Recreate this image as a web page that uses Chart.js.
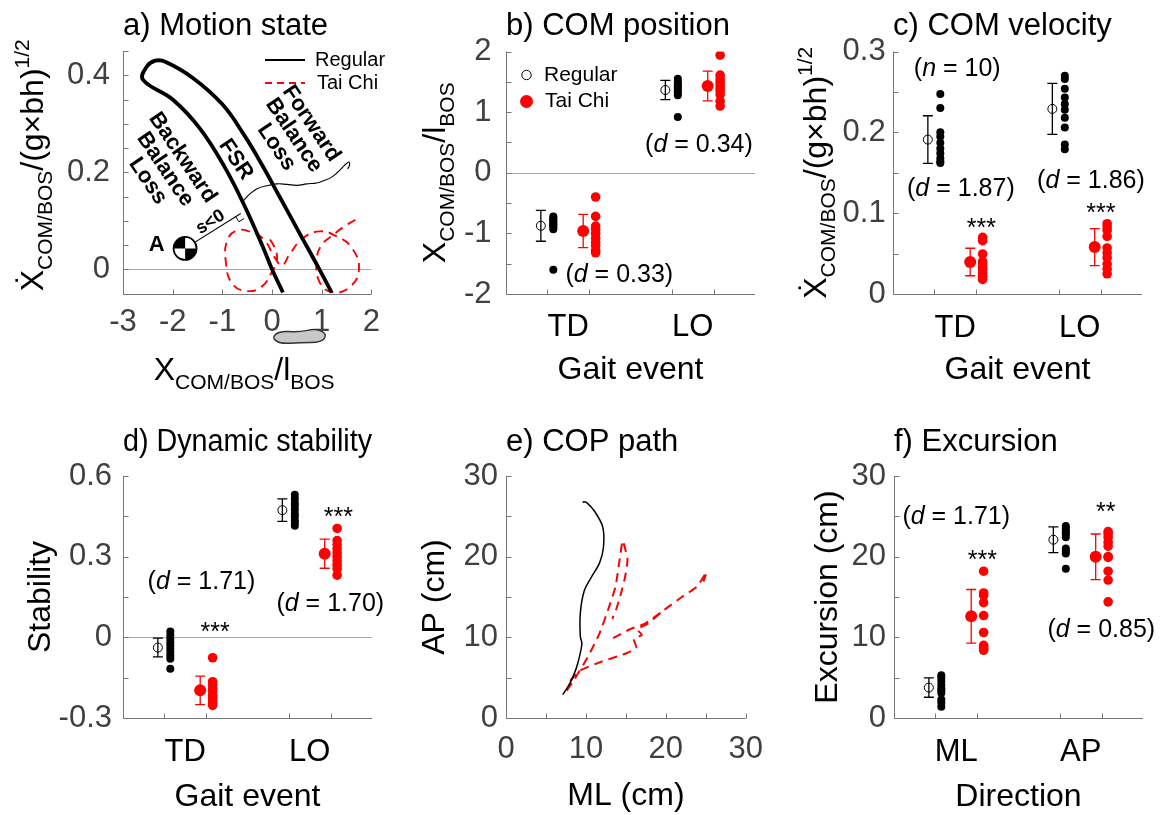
<!DOCTYPE html>
<html><head><meta charset="utf-8">
<script src="https://cdn.jsdelivr.net/npm/chart.js@4.4.1/dist/chart.umd.min.js"></script>
<style>
html,body{margin:0;padding:0;background:#fff;}
#wrap{position:relative;width:1166px;height:815px;overflow:hidden;background:#fff;}
canvas{position:absolute;}
</style></head><body>
<div id="wrap">
<canvas id="pa" width="390" height="400" style="left:0px;top:0px"></canvas>
<canvas id="pb" width="386" height="400" style="left:390px;top:0px"></canvas>
<canvas id="pc" width="390" height="400" style="left:776px;top:0px"></canvas>
<canvas id="pd" width="390" height="415" style="left:0px;top:400px"></canvas>
<canvas id="pe" width="386" height="415" style="left:390px;top:400px"></canvas>
<canvas id="pf" width="390" height="415" style="left:776px;top:400px"></canvas>
</div>
<script>
// ================= DATA =================
// a) Motion state
const fsrX = [0.22, 0.0, -0.2, -0.55, -0.95, -1.45, -2.0, -2.6, -2.52, -2.35, -2.15, -1.6, -1.0, -0.55, -0.2, 0.15, 0.55, 0.9, 1.2];
const fsrY = [-0.048, 0.0, 0.05, 0.13, 0.21, 0.29, 0.35, 0.391, 0.418, 0.43, 0.428, 0.395, 0.34, 0.275, 0.215, 0.15, 0.075, 0.01, -0.048];
const regTrajX = [-0.58, -0.45, -0.3, -0.11, 0.1, 0.3, 0.5, 0.7, 0.9, 1.05, 1.2, 1.32, 1.42, 1.5, 1.55, 1.56, 1.52];
const regTrajY = [0.141, 0.155, 0.166, 0.172, 0.176, 0.175, 0.173, 0.176, 0.178, 0.183, 0.19, 0.2, 0.21, 0.218, 0.221, 0.214, 0.207];
const taiTrajX = [1.68, 1.45, 1.22, 1.0, 0.9, 0.95, 1.2, 1.55, 1.75, 1.6, 1.3, 0.95, 0.6, 0.35, 0.2, 0.05, -0.15, -0.4, -0.7, -0.9, -0.93, -0.8, -0.5, -0.2, 0.0, 0.1, 0.05, -0.1];
const taiTrajY = [0.102, 0.088, 0.07, 0.05, 0.02, -0.025, -0.047, -0.038, 0.0, 0.045, 0.068, 0.078, 0.062, 0.03, 0.008, 0.025, 0.06, 0.076, 0.08, 0.06, 0.015, -0.03, -0.045, -0.035, -0.005, 0.02, 0.045, 0.07];
const sLineX = [-1.75, -0.63];
const sLineY = [0.043, 0.115];
const footX = [-0.006, 0.16, 0.528, 0.898, 1.11, 0.998, 0.562, 0.16];
const footY = [-0.1405, -0.127, -0.13, -0.122, -0.134, -0.151, -0.151, -0.154];

// b) COM position
const events = ['TD', 'LO'];
const posRegDots = [[-0.72, -0.75, -0.78, -0.80, -0.83, -0.85, -0.88, -0.90, -0.93, -1.60], [1.55, 1.50, 1.47, 1.44, 1.41, 1.38, 1.35, 1.32, 1.28, 0.92]];
const posTaiDots = [[-0.40, -0.72, -0.88, -0.93, -1.00, -1.08, -1.15, -1.20, -1.28, -1.32], [1.94, 1.61, 1.55, 1.50, 1.45, 1.40, 1.35, 1.29, 1.18, 1.10]];
const posRegMean = [-0.875, 1.365], posRegSD = [0.255, 0.16];
const posTaiMean = [-0.96, 1.43], posTaiSD = [0.275, 0.245];

// c) COM velocity
const velRegDots = [[0.2475, 0.230, 0.200, 0.195, 0.187, 0.180, 0.174, 0.168, 0.164, 0.162], [0.270, 0.266, 0.254, 0.243, 0.235, 0.228, 0.218, 0.206, 0.185, 0.179]];
const velTaiDots = [[0.070, 0.066, 0.0495, 0.040, 0.037, 0.033, 0.030, 0.026, 0.022, 0.018], [0.087, 0.083, 0.079, 0.0714, 0.057, 0.051, 0.045, 0.037, 0.031, 0.025]];
const velRegMean = [0.191, 0.229], velRegSD = [0.0295, 0.0315];
const velTaiMean = [0.0396, 0.058], velTaiSD = [0.017, 0.023];

// d) Dynamic stability
const stabRegDots = [[0.022, 0.008, -0.005, -0.018, -0.03, -0.042, -0.055, -0.068, -0.08, -0.117], [0.53, 0.515, 0.50, 0.49, 0.475, 0.46, 0.45, 0.435, 0.425, 0.415]];
const stabTaiDots = [[-0.076, -0.165, -0.175, -0.19, -0.20, -0.215, -0.225, -0.235, -0.245, -0.253], [0.405, 0.36, 0.345, 0.33, 0.315, 0.30, 0.285, 0.27, 0.255, 0.231]];
const stabRegMean = [-0.038, 0.473], stabRegSD = [0.035, 0.042];
const stabTaiMean = [-0.197, 0.311], stabTaiSD = [0.053, 0.054];

// e) COP path
const copRegX = [7.1, 7.7, 8.2, 8.9, 9.5, 9.3, 9.3, 9.8, 10.7, 11.7, 12.2, 12.1, 11.1, 10.1, 9.7, 9.6];
const copRegY = [2.9, 3.8, 4.7, 6.5, 9.2, 10.1, 13.0, 15.8, 17.5, 19.2, 21.2, 23.7, 25.6, 26.7, 26.8, 26.7];
const copTai1X = [7.6, 8.5, 10.2, 11.7, 12.8, 13.7, 14.2, 14.6, 14.9, 15.2, 14.9, 14.4, 13.8, 13.3];
const copTai1Y = [3.4, 4.7, 7.5, 10.5, 13.5, 16.3, 19.5, 22.0, 21.0, 19.6, 17.5, 15.5, 13.5, 12.3];
const copTai2X = [8.0, 9.3, 12.0, 15.0, 16.3, 16.0, 17.0, 16.4, 17.6, 19.8, 22.0, 23.9, 25.1, 24.7];
const copTai2Y = [4.6, 5.9, 7.0, 8.0, 8.7, 9.8, 10.3, 11.0, 11.6, 13.4, 15.0, 16.3, 18.1, 16.9];
const copTai3X = [13.4, 15.5, 17.4, 19.8];
const copTai3Y = [9.9, 11.0, 11.7, 13.4];

// f) Excursion
const directions = ['ML', 'AP'];
const excRegDots = [[5.3, 5.0, 4.6, 4.1, 3.7, 3.4, 3.1, 2.3, 1.9, 1.38], [23.8, 23.5, 23.2, 23.0, 22.8, 22.4, 21.0, 20.7, 20.4, 18.5]];
const excTaiDots = [[18.2, 15.5, 15.2, 14.3, 12.7, 10.6, 9.0, 8.8, 8.6, 8.4], [23.1, 22.8, 22.4, 21.8, 21.3, 20.0, 19.9, 18.2, 17.1, 14.4]];
const excRegMean = [3.77, 22.1], excRegSD = [1.2, 1.6];
const excTaiMean = [12.6, 19.98], excTaiSD = [3.33, 2.83];

// ================= HELPERS =================
const FF = '"Liberation Sans", Arial, Helvetica, sans-serif';
const AX = '#777777';
const TICKC = '#404040';
const TL = 5;
const GROUPS = [1, 2];
const REG_OFF = -0.17, TAI_OFF = 0.17, MEAN_SHIFT = -0.05, DOT_SHIFT = 0.05;

const isMajor = (v, m) => Math.abs(v / m - Math.round(v / m)) < 1e-6;
const fmt = v => String(Math.round(v * 1000) / 1000);
const fnt = p => (p.it ? 'italic ' : '') + (p.b ? 'bold ' : '') + p.size + 'px ' + FF;

function drawRich(ctx, parts, x, y, rot, color) {
  ctx.save(); ctx.translate(x, y); if (rot) ctx.rotate(rot);
  ctx.textAlign = 'left'; ctx.textBaseline = 'alphabetic'; ctx.fillStyle = color || '#000';
  let w = 0;
  const ws = parts.map(p => { ctx.font = fnt(p); const m = ctx.measureText(p.t).width; w += m; return m; });
  let cx = -w / 2;
  parts.forEach((p, i) => { ctx.font = fnt(p); ctx.fillText(p.t, cx, p.dy || 0); cx += ws[i]; });
  ctx.restore();
}
function dParts(val) { return [{t: '(', size: 25}, {t: 'd', size: 25, it: true}, {t: ' = ' + val + ')', size: 25}]; }
function drawNotes(chart, notes) {
  const {ctx, scales: {x, y}} = chart;
  notes.forEach(n => {
    const px = x.getPixelForValue(n.x), py = y.getPixelForValue(n.y);
    const star = n.parts.length === 1 && n.parts[0].t.indexOf('*') === 0;
    drawRich(ctx, n.parts, px, py + (star ? 0.58 : 0.27) * n.parts[0].size, 0, '#000');
  });
}
function drawAxes(chart, ex) {
  const {ctx, chartArea: a, scales: {x, y}} = chart;
  ctx.save();
  ctx.strokeStyle = AX; ctx.lineWidth = 1;
  ctx.beginPath();
  const L = Math.round(a.left) + 0.5, B = Math.round(a.bottom) + 0.5;
  ctx.moveTo(L, a.top); ctx.lineTo(L, B); ctx.lineTo(a.right, B);
  y.ticks.forEach(t => { const py = Math.round(y.getPixelForValue(t.value)) + 0.5; ctx.moveTo(L, py); ctx.lineTo(L + TL, py); });
  const xt = ex.xTicks || x.ticks.map(t => t.value);
  xt.forEach(v => { const px = Math.round(x.getPixelForValue(v)) + 0.5; ctx.moveTo(px, B); ctx.lineTo(px, B - TL); });
  ctx.stroke();
  ctx.restore();
}
function panelPlugin(ex) {
  return {
    id: 'panel_' + ex.name,
    beforeDatasetsDraw(chart) {
      const {ctx, chartArea: a, scales: {x, y}} = chart;
      ctx.save();
      if (ex.zero) {
        const py = Math.round(y.getPixelForValue(0)) + 0.5;
        ctx.strokeStyle = '#a8a8a8'; ctx.lineWidth = 1;
        ctx.beginPath(); ctx.moveTo(a.left, py); ctx.lineTo(a.right, py); ctx.stroke();
      }
      (ex.err || []).forEach(e => {
        e.mean.forEach((m, g) => {
          const px = x.getPixelForValue(e.xs[g]);
          const p1 = y.getPixelForValue(m + e.sd[g]), p2 = y.getPixelForValue(m - e.sd[g]);
          ctx.strokeStyle = e.color; ctx.lineWidth = 1.3;
          ctx.beginPath();
          ctx.moveTo(px, p1); ctx.lineTo(px, p2);
          ctx.moveTo(px - 5, p1); ctx.lineTo(px + 5, p1);
          ctx.moveTo(px - 5, p2); ctx.lineTo(px + 5, p2);
          ctx.stroke();
        });
      });
      ctx.restore();
    },
    afterDatasetsDraw(chart) {
      drawAxes(chart, ex);
      if (ex.extra) ex.extra(chart);
      if (ex.notes) drawNotes(chart, ex.notes);
    }
  };
}
function pts(xs, ys) { return xs.map((x, i) => ({x: x, y: ys[i]})); }
function groupPts(groups, off) {
  const out = [];
  groups.forEach((vals, g) => vals.forEach(v => out.push({x: GROUPS[g] + off, y: v})));
  return out;
}
function meanPts(means, off) { return means.map((m, g) => ({x: GROUPS[g] + off, y: m})); }

function yScale(o) {
  return {
    type: 'linear', position: 'left', min: o.min, max: o.max,
    ticks: {stepSize: o.step, autoSkip: false, maxTicksLimit: 100, padding: o.pad, color: TICKC,
      font: {family: FF, size: 31}, callback: v => isMajor(v, o.major) ? fmt(v) : ''},
    grid: {display: false, drawTicks: false}, border: {display: false},
    title: o.title ? {display: true, text: o.title, color: '#000', font: {family: FF, size: 32, lineHeight: 1}, padding: {top: o.tpad, bottom: 0}} : {display: false},
    afterFit: s => { s.width = o.width; }
  };
}
function xCatScale(o) {
  return {
    type: 'linear', position: 'bottom', min: 0.5, max: 2.5,
    afterBuildTicks: s => { s.ticks = GROUPS.map(v => ({value: v})); },
    ticks: {autoSkip: false, maxRotation: 0, minRotation: 0, padding: o.pad, color: '#000',
      font: {family: FF, size: 31}, callback: (v, i) => o.cats[i]},
    grid: {display: false, drawTicks: false}, border: {display: false},
    title: {display: true, text: o.title, color: '#000', font: {family: FF, size: 32, lineHeight: 1}, padding: {top: 0, bottom: o.tpad}},
    afterFit: s => { s.height = o.height; }
  };
}
function xNumScale(o) {
  return {
    type: 'linear', position: 'bottom', min: o.min, max: o.max,
    ticks: {stepSize: o.step, autoSkip: false, maxRotation: 0, minRotation: 0, maxTicksLimit: 100, padding: o.pad, color: TICKC,
      font: {family: FF, size: 31}, callback: v => isMajor(v, o.major) ? fmt(v) : ''},
    grid: {display: false, drawTicks: false}, border: {display: false},
    title: o.title ? {display: true, text: o.title, color: '#000', font: {family: FF, size: 32, lineHeight: 1}, padding: {top: 0, bottom: o.tpad}} : {display: false},
    afterFit: s => { s.height = o.height; }
  };
}
function baseOpts(o, scales) {
  return {
    responsive: false, animation: false, devicePixelRatio: 1, events: [],
    layout: {padding: {left: 0, right: o.padR, top: 0, bottom: 0}},
    plugins: {
      legend: {display: false}, tooltip: {enabled: false},
      title: {display: true, text: o.title, align: 'start', fullSize: false, color: '#000',
        font: {family: FF, size: 31, weight: 'normal', lineHeight: 1.2}, padding: {top: o.tp, bottom: o.tb}}
    },
    scales: scales
  };
}
function catDatasets(regDots, taiDots, regMean, taiMean) {
  return [
    {data: groupPts(regDots, REG_OFF + DOT_SHIFT), pointRadius: 4, backgroundColor: '#000', borderColor: '#000', borderWidth: 0},
    {data: groupPts(taiDots, TAI_OFF + DOT_SHIFT), pointRadius: 4.8, backgroundColor: '#ff0000', borderColor: '#ff0000', borderWidth: 0},
    {data: meanPts(regMean, REG_OFF + MEAN_SHIFT), pointRadius: 4.5, backgroundColor: 'rgba(0,0,0,0)', borderColor: '#000', borderWidth: 1},
    {data: meanPts(taiMean, TAI_OFF + MEAN_SHIFT), pointRadius: 6, backgroundColor: '#ff0000', borderColor: '#ff0000', borderWidth: 0}
  ];
}
function errSpec(regMean, regSD, taiMean, taiSD) {
  return [
    {xs: GROUPS.map(c => c + REG_OFF + MEAN_SHIFT), mean: regMean, sd: regSD, color: '#000'},
    {xs: GROUPS.map(c => c + TAI_OFF + MEAN_SHIFT), mean: taiMean, sd: taiSD, color: '#ff0000'}
  ];
}
const CAT_TICKS = [GROUPS[0] + REG_OFF, GROUPS[0] + TAI_OFF, GROUPS[1] + REG_OFF, GROUPS[1] + TAI_OFF];

const velLabel = [{t: '\u1E8A', size: 32}, {t: 'COM/BOS', size: 21, dy: 9}, {t: '/(g\u00D7bh)', size: 32}, {t: '1/2', size: 21, dy: -14}];
const posLabel = [{t: 'X', size: 32}, {t: 'COM/BOS', size: 21, dy: 9}, {t: '/l', size: 32}, {t: 'BOS', size: 21, dy: 9}];

// ================= PANEL A =================
new Chart(document.getElementById('pa'), {
  type: 'scatter',
  data: {datasets: [
    {data: pts(fsrX, fsrY), showLine: true, pointRadius: 0, borderColor: '#000', borderWidth: 3.8, tension: 0.4, fill: false},
    {data: pts(regTrajX, regTrajY), showLine: true, pointRadius: 0, borderColor: '#000', borderWidth: 1.1, tension: 0.4, fill: false},
    {data: pts(taiTrajX, taiTrajY), showLine: true, pointRadius: 0, borderColor: '#ff0000', borderWidth: 1.9, borderDash: [9, 6], tension: 0.45, fill: false},
    {data: pts(sLineX, sLineY), showLine: true, pointRadius: 0, borderColor: '#000', borderWidth: 1.1, fill: false}
  ]},
  options: baseOpts({title: 'a) Motion state', padR: 18, tp: 7.4, tb: 6.4}, {
    x: xNumScale({min: -3, max: 2, step: 1, major: 1, pad: 10, height: 106.5}),
    y: yScale({min: -0.05, max: 0.45, step: 0.05, major: 0.2, pad: 13, width: 123})
  }),
  plugins: [panelPlugin({name: 'a', zero: true, extra: chart => {
    const {ctx, chartArea: a, scales: {x, y}} = chart;
    // foot outline
    ctx.save();
    const fp = footX.map((v, i) => [x.getPixelForValue(v), y.getPixelForValue(footY[i])]);
    ctx.beginPath();
    const n = fp.length;
    const mid = (p, q) => [(p[0] + q[0]) / 2, (p[1] + q[1]) / 2];
    let m0 = mid(fp[n - 1], fp[0]);
    ctx.moveTo(m0[0], m0[1]);
    for (let i = 0; i < n; i++) { const m = mid(fp[i], fp[(i + 1) % n]); ctx.quadraticCurveTo(fp[i][0], fp[i][1], m[0], m[1]); }
    ctx.closePath(); ctx.fillStyle = '#c8c8c8'; ctx.fill(); ctx.strokeStyle = '#333'; ctx.lineWidth = 1.5; ctx.stroke();
    // right-angle marker at the end of s line
    const A = [x.getPixelForValue(sLineX[0]), y.getPixelForValue(sLineY[0])];
    const P = [x.getPixelForValue(sLineX[1]), y.getPixelForValue(sLineY[1])];
    const len = Math.hypot(P[0] - A[0], P[1] - A[1]);
    const u = [(P[0] - A[0]) / len, (P[1] - A[1]) / len], nv = [-u[1], u[0]], s = 6;
    ctx.beginPath();
    ctx.moveTo(P[0] - u[0] * s, P[1] - u[1] * s);
    ctx.lineTo(P[0] - u[0] * s + nv[0] * s, P[1] - u[1] * s + nv[1] * s);
    ctx.lineTo(P[0] + nv[0] * s, P[1] + nv[1] * s);
    ctx.strokeStyle = '#000'; ctx.lineWidth = 1; ctx.stroke();
    // COM symbol
    const r = 11.5;
    ctx.beginPath(); ctx.arc(A[0], A[1], r, 0, Math.PI * 2); ctx.fillStyle = '#fff'; ctx.fill();
    ctx.fillStyle = '#000';
    ctx.beginPath(); ctx.moveTo(A[0], A[1]); ctx.arc(A[0], A[1], r, Math.PI, Math.PI * 1.5); ctx.closePath(); ctx.fill();
    ctx.beginPath(); ctx.moveTo(A[0], A[1]); ctx.arc(A[0], A[1], r, 0, Math.PI * 0.5); ctx.closePath(); ctx.fill();
    ctx.beginPath(); ctx.arc(A[0], A[1], r, 0, Math.PI * 2); ctx.lineWidth = 1.8; ctx.strokeStyle = '#000'; ctx.stroke();
    ctx.restore();
    // rotated annotation blocks
    const rot = 56 * Math.PI / 180;
    const block = (lines, vx, vy, size, ang, lh) => {
      const px = x.getPixelForValue(vx), py = y.getPixelForValue(vy);
      ctx.save(); ctx.translate(px, py); ctx.rotate(ang);
      ctx.font = 'bold ' + size + 'px ' + FF; ctx.fillStyle = '#000'; ctx.textAlign = 'center'; ctx.textBaseline = 'middle';
      lines.forEach((t, i) => ctx.fillText(t, 0, (i - (lines.length - 1) / 2) * lh));
      ctx.restore();
    };
    block(['Backward', 'Balance', 'Loss'], -2.15, 0.206, 22, rot, 21);
    block(['FSR'], -0.73, 0.226, 22, rot, 21);
    block(['Forward', 'Balance', 'Loss'], 0.44, 0.276, 22, rot, 21);
    block(['s<0'], -1.24, 0.097, 18, Math.atan2(P[1] - A[1], P[0] - A[0]), 18);
    block(['A'], -2.32, 0.051, 22, 0, 22);
    // legend
    ctx.save();
    const lx = a.left + 142, ly1 = a.top + 9, ly2 = a.top + 32;
    ctx.strokeStyle = '#000'; ctx.lineWidth = 2; ctx.beginPath(); ctx.moveTo(lx, ly1); ctx.lineTo(lx + 40, ly1); ctx.stroke();
    ctx.strokeStyle = '#ff0000'; ctx.setLineDash([7, 5]); ctx.beginPath(); ctx.moveTo(lx, ly2); ctx.lineTo(lx + 40, ly2); ctx.stroke();
    ctx.setLineDash([]);
    ctx.font = '20px ' + FF; ctx.fillStyle = '#000'; ctx.textAlign = 'left'; ctx.textBaseline = 'middle';
    ctx.fillText('Regular', lx + 50, ly1); ctx.fillText('Tai Chi', lx + 52, ly2);
    ctx.restore();
    // axis labels
    drawRich(ctx, velLabel, a.left - 80, (a.top + a.bottom) / 2 - 7, -Math.PI / 2, '#000');
    drawRich(ctx, posLabel, (a.left + a.right) / 2 - 3, a.bottom + 86.5, 0, '#000');
  }})]
});

// ================= PANEL B =================
new Chart(document.getElementById('pb'), {
  type: 'scatter',
  data: {datasets: catDatasets(posRegDots, posTaiDots, posRegMean, posTaiMean)},
  options: baseOpts({title: 'b) COM position', padR: 21, tp: 7.4, tb: 6.9}, {
    x: xCatScale({cats: events, pad: 14.4, height: 106, title: 'Gait event', tpad: 14}),
    y: yScale({min: -2, max: 2, step: 0.5, major: 1, pad: 14.5, width: 116})
  }),
  plugins: [panelPlugin({name: 'b', zero: true, xTicks: CAT_TICKS, err: errSpec(posRegMean, posRegSD, posTaiMean, posTaiSD),
    notes: [{x: 2.05, y: 0.45, parts: dParts('0.34')}, {x: 1.41, y: -1.69, parts: dParts('0.33')}],
    extra: chart => {
      const {ctx, chartArea: a} = chart;
      ctx.save();
      ctx.beginPath(); ctx.arc(a.left + 20.5, a.top + 23.5, 4.7, 0, Math.PI * 2); ctx.strokeStyle = '#000'; ctx.lineWidth = 1; ctx.stroke();
      ctx.beginPath(); ctx.arc(a.left + 20.5, a.top + 50, 6.5, 0, Math.PI * 2); ctx.fillStyle = '#ff0000'; ctx.fill();
      ctx.font = '21px ' + FF; ctx.fillStyle = '#000'; ctx.textAlign = 'left'; ctx.textBaseline = 'middle';
      ctx.fillText('Regular', a.left + 38, a.top + 23.5); ctx.fillText('Tai Chi', a.left + 39, a.top + 50);
      ctx.restore();
      drawRich(ctx, posLabel, a.left - 61, (a.top + a.bottom) / 2, -Math.PI / 2, '#000');
    }})]
});

// ================= PANEL C =================
new Chart(document.getElementById('pc'), {
  type: 'scatter',
  data: {datasets: catDatasets(velRegDots, velTaiDots, velRegMean, velTaiMean)},
  options: baseOpts({title: 'c) COM velocity', padR: 24, tp: 7.4, tb: 6.9}, {
    x: xCatScale({cats: events, pad: 16, height: 106, title: 'Gait event', tpad: 14}),
    y: yScale({min: 0, max: 0.3, step: 0.05, major: 0.1, pad: 7.3, width: 117})
  }),
  plugins: [panelPlugin({name: 'c', xTicks: CAT_TICKS, err: errSpec(velRegMean, velRegSD, velTaiMean, velTaiSD),
    notes: [
      {x: 1.016, y: 0.2776, parts: [{t: '(', size: 25}, {t: 'n', size: 25, it: true}, {t: ' = 10)', size: 25}]},
      {x: 1.045, y: 0.129, parts: dParts('1.87')},
      {x: 2.09, y: 0.139, parts: dParts('1.86')},
      {x: 1.21, y: 0.0898, parts: [{t: '***', size: 25}]},
      {x: 2.17, y: 0.1077, parts: [{t: '***', size: 25}]}
    ],
    extra: chart => {
      const {ctx, chartArea: a} = chart;
      drawRich(ctx, velLabel, a.left - 67, (a.top + a.bottom) / 2, -Math.PI / 2, '#000');
    }})]
});

// ================= PANEL D =================
new Chart(document.getElementById('pd'), {
  type: 'scatter',
  data: {datasets: catDatasets(stabRegDots, stabTaiDots, stabRegMean, stabTaiMean)},
  options: baseOpts({title: 'd) Dynamic stability', padR: 18, tp: 23.4, tb: 15.4}, {
    x: xCatScale({cats: events, pad: 16, height: 97, title: 'Gait event', tpad: 2}),
    y: yScale({min: -0.3, max: 0.6, step: 0.15, major: 0.3, pad: 11, width: 123, title: 'Stability', tpad: 25})
  }),
  plugins: [panelPlugin({name: 'd', zero: true, xTicks: CAT_TICKS, err: errSpec(stabRegMean, stabRegSD, stabTaiMean, stabTaiSD),
    notes: [
      {x: 1.13, y: 0.206, parts: dParts('1.71')},
      {x: 1.24, y: 0.045, parts: [{t: '***', size: 25}]},
      {x: 2.165, y: 0.123, parts: dParts('1.70')},
      {x: 2.23, y: 0.473, parts: [{t: '***', size: 25}]}
    ]})]
});

// ================= PANEL E =================
new Chart(document.getElementById('pe'), {
  type: 'scatter',
  data: {datasets: [
    {data: pts(copRegX, copRegY), showLine: true, pointRadius: 0, borderColor: '#000', borderWidth: 1.5, tension: 0.3, fill: false},
    {data: pts(copTai1X, copTai1Y), showLine: true, pointRadius: 0, borderColor: '#ff0000', borderWidth: 2, borderDash: [9, 6], tension: 0.2, fill: false},
    {data: pts(copTai2X, copTai2Y), showLine: true, pointRadius: 0, borderColor: '#ff0000', borderWidth: 2, borderDash: [9, 6], tension: 0.2, fill: false},
    {data: pts(copTai3X, copTai3Y), showLine: true, pointRadius: 0, borderColor: '#ff0000', borderWidth: 2, borderDash: [9, 6], tension: 0.2, fill: false}
  ]},
  options: baseOpts({title: 'e) COP path', padR: 22, tp: 23.4, tb: 15.4}, {
    x: xNumScale({min: 0, max: 30, step: 5, major: 10, pad: 13, height: 97, title: 'ML (cm)', tpad: 3}),
    y: yScale({min: 0, max: 30, step: 5, major: 10, pad: 8, width: 116, title: 'AP (cm)', tpad: 29})
  }),
  plugins: [panelPlugin({name: 'e'})]
});

// ================= PANEL F =================
new Chart(document.getElementById('pf'), {
  type: 'scatter',
  data: {datasets: catDatasets(excRegDots, excTaiDots, excRegMean, excTaiMean)},
  options: baseOpts({title: 'f) Excursion', padR: 23, tp: 23.4, tb: 15.4}, {
    x: xCatScale({cats: directions, pad: 16, height: 97, title: 'Direction', tpad: 2}),
    y: yScale({min: 0, max: 30, step: 5, major: 10, pad: 8, width: 118, title: 'Excursion (cm)', tpad: 36})
  }),
  plugins: [panelPlugin({name: 'f', xTicks: CAT_TICKS, err: errSpec(excRegMean, excRegSD, excTaiMean, excTaiSD),
    notes: [
      {x: 1.0, y: 24.9, parts: dParts('1.71')},
      {x: 1.21, y: 20.4, parts: [{t: '***', size: 25}]},
      {x: 2.2, y: 26.4, parts: [{t: '**', size: 25}]},
      {x: 2.165, y: 10.9, parts: dParts('0.85')}
    ]})]
});
</script>
</body></html>
